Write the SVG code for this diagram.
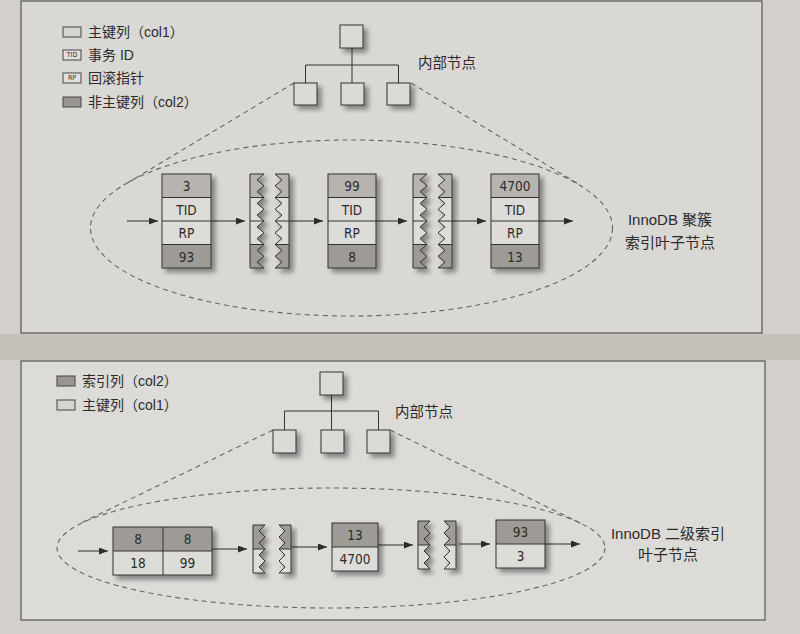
<svg xmlns="http://www.w3.org/2000/svg" width="800" height="634" viewBox="0 0 800 634">
<defs>
<style>
.cl{fill:#dedcd8}
.cm{fill:#b7b4b0}
.cd{fill:#9e9b97}
.ol{fill:none;stroke:#333;stroke-width:1}
.dv{stroke:#333;stroke-width:1;fill:none}
.t{font-family:"DejaVu Sans Condensed","Liberation Sans",sans-serif;font-size:13.5px;fill:#2b2b2b;text-anchor:middle;dominant-baseline:central}
.cjk{font-family:"Liberation Sans","Noto Sans CJK SC",sans-serif;font-size:14px;fill:#2b2b2b;dominant-baseline:central}
.lab{font-family:"Liberation Sans","Noto Sans CJK SC",sans-serif;font-size:15px;fill:#2b2b2b;text-anchor:middle;dominant-baseline:central}
.dash{fill:none;stroke:#666;stroke-width:1.1;stroke-dasharray:5 4}
.ar{stroke:#2b2b2b;stroke-width:1;fill:none;marker-end:url(#ah)}
.ln{stroke:#333;stroke-width:1;fill:none}
.tn{fill:#dcdad6;stroke:#333;stroke-width:1}
</style>
<marker id="ah" markerUnits="userSpaceOnUse" markerWidth="10" markerHeight="8" refX="9" refY="3.5" orient="auto"><path d="M0,0 L9,3.5 L0,7 Z" fill="#2b2b2b"/></marker>
<filter id="sh" x="-30%" y="-30%" width="170%" height="170%">
<feGaussianBlur in="SourceAlpha" stdDeviation="2.5"/>
<feOffset dx="4" dy="4"/>
<feComponentTransfer><feFuncA type="linear" slope="0.4"/></feComponentTransfer>
<feMerge><feMergeNode/><feMergeNode in="SourceGraphic"/></feMerge>
</filter>
<path id="pA" d="M0,0 L14,0 L7,5.9 L14,11.8 L7,17.6 L14,23.5 L7,29.4 L14,35.3 L7,41.1 L14,47 L7,52.9 L14,58.8 L7,64.6 L14,70.5 L7,76.4 L14,82.3 L7,88.1 L14,94 L0,94 Z"/>
<path id="pB" d="M1,0 L15,0 L15,94 L1,94 L8,88.1 L1,82.3 L8,76.4 L1,70.5 L8,64.6 L1,58.8 L8,52.9 L1,47 L8,41.1 L1,35.3 L8,29.4 L1,23.5 L8,17.6 L1,11.8 L8,5.9 Z"/>
<path id="pC" d="M0,0 L12,0 L6,6 L12,12 L6,18 L12,24 L6,30 L12,36 L6,42 L12,48 L0,48 Z"/>
<path id="pD" d="M1,0 L13,0 L13,48 L1,48 L7,42 L1,36 L7,30 L1,24 L7,18 L1,12 L7,6 Z"/>
<clipPath id="cA"><use href="#pA"/></clipPath>
<clipPath id="cB"><use href="#pB"/></clipPath>
<clipPath id="cC"><use href="#pC"/></clipPath>
<clipPath id="cD"><use href="#pD"/></clipPath>
<g id="zTop">
<rect x="0" y="0" width="16" height="23.5" class="cm"/>
<rect x="0" y="23.5" width="16" height="47" class="cl"/>
<rect x="0" y="70.5" width="16" height="23.5" class="cd"/>
<path d="M0,23.5 H16 M0,47 H16 M0,70.5 H16" class="dv"/>
</g>
<g id="zBot">
<rect x="0" y="0" width="14" height="24" class="cd"/>
<rect x="0" y="24" width="14" height="24" class="cl"/>
<path d="M0,24 H14" class="dv"/>
</g>
</defs>

<!-- page background -->
<rect x="0" y="0" width="800" height="634" fill="#d3d0cb"/>
<rect x="0" y="334" width="800" height="26" fill="#c6c1bb"/>
<rect x="21" y="1" width="741" height="332" fill="#dad8d4" stroke="#555" stroke-width="1.2"/>
<rect x="21" y="361" width="744" height="259" fill="#dddbd8" stroke="#555" stroke-width="1.2"/>

<!-- ===== TOP PANEL ===== -->
<g id="legend-top">
<rect x="63" y="27" width="18" height="10" fill="#d6d4d0" stroke="#444"/>
<text x="88" y="32" class="cjk">主键列（col1）</text>
<rect x="63" y="50" width="18" height="10" fill="#e2e0dc" stroke="#444"/>
<text x="72" y="55" class="t" style="font-size:7px">TID</text>
<text x="88" y="55" class="cjk">事务 ID</text>
<rect x="63" y="73" width="18" height="10" fill="#e2e0dc" stroke="#444"/>
<text x="72" y="78" class="t" style="font-size:7px">RP</text>
<text x="88" y="78" class="cjk">回滚指针</text>
<rect x="63" y="97" width="18" height="10" fill="#9a9793" stroke="#444"/>
<text x="88" y="102" class="cjk">非主键列（col2）</text>
</g>

<g id="connectors-top">
<path d="M352,48 V83 M305.5,65 H398.5 M305.5,65 V83 M398.5,65 V83" class="ln"/>
<ellipse cx="351.5" cy="228" rx="261" ry="88" class="dash"/>
<path d="M294,83 L124,185 M411,83 L580,185" class="dash"/>
<path d="M127,221 H158" class="ar"/>
<path d="M211,221 H245" class="ar"/>
<path d="M290,221 H323" class="ar"/>
<path d="M376,221 H407" class="ar"/>
<path d="M452,221 H486" class="ar"/>
<path d="M539,221 H573" class="ar"/>
</g>

<g id="inner-root-top" filter="url(#sh)"><rect x="340" y="25" width="23" height="23" class="tn"/></g>
<g id="inner-1-top" filter="url(#sh)"><rect x="294" y="83" width="23" height="22" class="tn"/></g>
<g id="inner-2-top" filter="url(#sh)"><rect x="341" y="83" width="23" height="22" class="tn"/></g>
<g id="inner-3-top" filter="url(#sh)"><rect x="387" y="83" width="23" height="22" class="tn"/></g>
<text x="418" y="63" class="cjk" style="font-size:14.5px">内部节点</text>

<g id="leaf-top-1">
<g filter="url(#sh)">
<rect x="162" y="174" width="49" height="23.5" class="cm"/>
<rect x="162" y="197.5" width="49" height="47" class="cl"/>
<rect x="162" y="244.5" width="49" height="23.5" class="cd"/>
<path d="M162,197.5 H211 M162,221 H211 M162,244.5 H211" class="dv"/>
<rect x="162" y="174" width="49" height="94" class="ol"/>
</g>
<text x="186.5" y="186" class="t">3</text>
<text x="186.5" y="209.5" class="t">TID</text>
<text x="186.5" y="233" class="t">RP</text>
<text x="186.5" y="256.5" class="t">93</text>
</g>

<g id="gap-top-1">
<g transform="translate(250,174)" filter="url(#sh)"><g clip-path="url(#cA)"><use href="#zTop"/></g><use href="#pA" class="ol"/></g>
<g transform="translate(274,174)" filter="url(#sh)"><g clip-path="url(#cB)"><use href="#zTop"/></g><use href="#pB" class="ol"/></g>
</g>

<g id="leaf-top-2">
<g filter="url(#sh)">
<rect x="328" y="174" width="48" height="23.5" class="cm"/>
<rect x="328" y="197.5" width="48" height="47" class="cl"/>
<rect x="328" y="244.5" width="48" height="23.5" class="cd"/>
<path d="M328,197.5 H376 M328,221 H376 M328,244.5 H376" class="dv"/>
<rect x="328" y="174" width="48" height="94" class="ol"/>
</g>
<text x="352" y="186" class="t">99</text>
<text x="352" y="209.5" class="t">TID</text>
<text x="352" y="233" class="t">RP</text>
<text x="352" y="256.5" class="t">8</text>
</g>

<g id="gap-top-2">
<g transform="translate(413,174)" filter="url(#sh)"><g clip-path="url(#cA)"><use href="#zTop"/></g><use href="#pA" class="ol"/></g>
<g transform="translate(437,174)" filter="url(#sh)"><g clip-path="url(#cB)"><use href="#zTop"/></g><use href="#pB" class="ol"/></g>
</g>

<g id="leaf-top-3">
<g filter="url(#sh)">
<rect x="491" y="174" width="48" height="23.5" class="cm"/>
<rect x="491" y="197.5" width="48" height="47" class="cl"/>
<rect x="491" y="244.5" width="48" height="23.5" class="cd"/>
<path d="M491,197.5 H539 M491,221 H539 M491,244.5 H539" class="dv"/>
<rect x="491" y="174" width="48" height="94" class="ol"/>
</g>
<text x="515" y="186" class="t">4700</text>
<text x="515" y="209.5" class="t">TID</text>
<text x="515" y="233" class="t">RP</text>
<text x="515" y="256.5" class="t">13</text>
</g>

<g id="label-top">
<text x="670" y="219" class="lab">InnoDB 聚簇</text>
<text x="670" y="242" class="lab">索引叶子节点</text>
</g>

<!-- ===== BOTTOM PANEL ===== -->
<g id="legend-bottom">
<rect x="57" y="376" width="18" height="10" fill="#9a9793" stroke="#444"/>
<text x="82" y="381" class="cjk">索引列（col2）</text>
<rect x="57" y="400" width="18" height="10" fill="#d6d4d0" stroke="#444"/>
<text x="82" y="405" class="cjk">主键列（col1）</text>
</g>

<g id="connectors-bottom">
<path d="M331.5,395 V430 M284.5,411 H378.5 M284.5,411 V430 M378.5,411 V430" class="ln"/>
<ellipse cx="331" cy="548" rx="274" ry="60" class="dash"/>
<path d="M273,430 L81,523 M390,430 L581,523.5" class="dash"/>
<path d="M78,551 H108" class="ar"/>
<path d="M212,549 H247" class="ar"/>
<path d="M292,547 H327" class="ar"/>
<path d="M378,545 H413" class="ar"/>
<path d="M459,544 H490" class="ar"/>
<path d="M545,544 H580" class="ar"/>
</g>

<g id="inner-root-bottom" filter="url(#sh)"><rect x="320" y="372" width="23" height="23" class="tn"/></g>
<g id="inner-1-bottom" filter="url(#sh)"><rect x="273" y="430" width="23" height="23" class="tn"/></g>
<g id="inner-2-bottom" filter="url(#sh)"><rect x="321" y="430" width="23" height="23" class="tn"/></g>
<g id="inner-3-bottom" filter="url(#sh)"><rect x="367" y="430" width="23" height="23" class="tn"/></g>
<text x="395" y="412" class="cjk" style="font-size:14.5px">内部节点</text>

<g id="leaf-bottom-1">
<g filter="url(#sh)">
<rect x="113" y="527" width="99" height="24" class="cd"/>
<rect x="113" y="551" width="99" height="24" class="cl"/>
<path d="M113,551 H212 M163,527 V575" class="dv"/>
<rect x="113" y="527" width="99" height="48" class="ol"/>
</g>
<text x="138" y="539" class="t">8</text>
<text x="187.5" y="539" class="t">8</text>
<text x="138" y="563" class="t">18</text>
<text x="187.5" y="563" class="t">99</text>
</g>

<g id="gap-bottom-1">
<g transform="translate(253,525)" filter="url(#sh)"><g clip-path="url(#cC)"><use href="#zBot"/></g><use href="#pC" class="ol"/></g>
<g transform="translate(278,525)" filter="url(#sh)"><g clip-path="url(#cD)"><use href="#zBot"/></g><use href="#pD" class="ol"/></g>
</g>

<g id="leaf-bottom-2">
<g filter="url(#sh)">
<rect x="332" y="523" width="46" height="24" class="cd"/>
<rect x="332" y="547" width="46" height="24" class="cl"/>
<path d="M332,547 H378" class="dv"/>
<rect x="332" y="523" width="46" height="48" class="ol"/>
</g>
<text x="355" y="535" class="t">13</text>
<text x="355" y="559" class="t">4700</text>
</g>

<g id="gap-bottom-2">
<g transform="translate(418,521)" filter="url(#sh)"><g clip-path="url(#cC)"><use href="#zBot"/></g><use href="#pC" class="ol"/></g>
<g transform="translate(443,521)" filter="url(#sh)"><g clip-path="url(#cD)"><use href="#zBot"/></g><use href="#pD" class="ol"/></g>
</g>

<g id="leaf-bottom-3">
<g filter="url(#sh)">
<rect x="496" y="520" width="49" height="24" class="cd"/>
<rect x="496" y="544" width="49" height="24" class="cl"/>
<path d="M496,544 H545" class="dv"/>
<rect x="496" y="520" width="49" height="48" class="ol"/>
</g>
<text x="520.5" y="532" class="t">93</text>
<text x="520.5" y="556" class="t">3</text>
</g>

<g id="label-bottom">
<text x="668" y="533" class="lab">InnoDB 二级索引</text>
<text x="668" y="554" class="lab">叶子节点</text>
</g>
</svg>
